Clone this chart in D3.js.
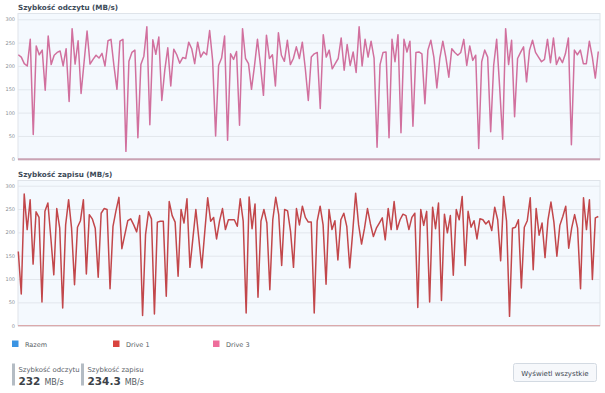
<!DOCTYPE html>
<html><head><meta charset="utf-8">
<script src="https://cdn.jsdelivr.net/npm/d3@7"></script>
<style>
html,body{margin:0;padding:0;background:#fff;}
svg{display:block;font-family:"DejaVu Sans",Verdana,sans-serif;}
</style></head>
<body><svg id="c" width="605" height="393"></svg>
<script>
const readTitle = "Szybkość odczytu (MB/s)";
const writeTitle = "Szybkość zapisu (MB/s)";
const yTicks = [0, 50, 100, 150, 200, 250, 300];
const readValues = [224,219,205,200,257,53,243,224,234,148,264,203,223,229,232,200,237,124,280,204,254,141,208,275,204,214,223,217,227,200,254,257,200,150,253,257,17,210,229,234,46,203,221,284,74,256,225,262,126,
191,239,157,236,224,206,218,216,251,237,205,251,219,230,224,276,212,50,201,217,264,41,226,214,231,73,280,216,205,150,200,257,201,137,266,216,224,157,271,223,210,255,203,216,241,216,251,
194,126,219,226,229,109,267,219,234,194,205,216,260,191,246,201,230,186,284,200,257,219,253,217,26,203,229,230,46,257,209,267,57,257,230,253,71,229,230,226,119,234,255,219,153,217,253,219,176,
237,229,223,229,257,201,243,212,223,23,209,234,219,59,201,257,155,43,280,203,255,91,216,229,241,166,234,255,229,219,209,214,257,207,260,203,219,207,226,260,31,234,224,234,205,205,253,219,174,231];
const writeValues = [159,68,282,206,270,132,244,232,51,245,263,188,109,251,209,38,216,270,209,88,211,225,270,111,238,229,209,104,241,251,249,79,213,246,275,165,195,225,229,216,201,236,22,195,244,229,25,
222,224,224,63,266,236,222,106,249,220,272,125,187,249,187,124,200,274,224,232,186,224,251,206,227,227,227,213,272,224,27,276,208,261,61,224,249,220,77,227,275,238,129,249,246,202,125,251,216,256,
232,222,222,27,224,256,216,89,249,206,225,141,227,241,213,124,200,284,216,175,209,251,218,191,209,220,231,184,251,206,266,206,227,239,236,206,232,241,39,249,215,245,51,254,208,263,54,239,199,
236,108,249,227,277,129,245,211,225,186,229,227,218,225,204,254,227,139,277,224,20,209,211,227,81,211,225,274,120,251,194,220,146,227,265,222,149,215,234,256,166,209,238,209,79,274,206,270,99,231,234];
const legendLabels = ["Razem", "Drive 1", "Drive 3"];
const legendColors = ["#3b94e3", "#d9443f", "#ee6e9b"];
const statLabels = ["Szybkość odczytu", "Szybkość zapisu"];
const statValues = ["232", "234.3"];
const statUnit = "MB/s";
const buttonLabel = "Wyświetl wszystkie";

const svg = d3.select("#c");
const X0 = 18, X1 = 600;

function panel(title, values, top, zeroY, lineColor, baseColor, baseW) {
  const y = d3.scaleLinear().domain([0, 300]).range([zeroY, zeroY - 140]);
  const x = d3.scaleLinear().domain([0, values.length - 1]).range([X0 + 0.3, X1 - 1.7]);
  svg.append("text").attr("x", X0).attr("y", top - 4).attr("font-size", 7.2).attr("font-weight", "bold")
    .attr("fill", "#3d4b58").text(title);
  svg.append("rect").attr("x", X0).attr("y", top).attr("width", X1 - X0).attr("height", zeroY - top)
    .attr("fill", "#f4f9fe").attr("stroke", "#dfe4ea").attr("stroke-width", 1);
  const ax = d3.axisLeft(y).tickValues(yTicks).tickSize(-(X1 - X0)).tickPadding(3);
  const g = svg.append("g").attr("transform", `translate(${X0},0)`).call(ax);
  g.select(".domain").remove();
  g.selectAll(".tick line").attr("stroke", "#e2e7ed").attr("stroke-width", 1);
  g.selectAll(".tick text").attr("font-size", 5).attr("fill", "#8a8f96")
    .attr("font-family", "DejaVu Sans, sans-serif");
  const line = d3.line().x((d, i) => x(i)).y(d => y(d));
  svg.append("path").datum(values).attr("d", line).attr("fill", "none")
    .attr("stroke", lineColor).attr("stroke-width", 1.5).attr("stroke-linejoin", "round");
  svg.append("line").attr("x1", X0).attr("x2", X1).attr("y1", y(0)).attr("y2", y(0))
    .attr("stroke", baseColor).attr("stroke-width", baseW);
}

panel(readTitle, readValues, 13.5, 159.3, "#d1709e", "#caa3b4", 2);
panel(writeTitle, writeValues, 180.5, 325.7, "#c2474b", "#d99a9c", 1);

// legend
const legX = [12, 113, 213];
legendLabels.forEach((l, i) => {
  svg.append("rect").attr("x", legX[i]).attr("y", 340.5).attr("width", 6.5).attr("height", 6.5).attr("fill", legendColors[i]);
  svg.append("text").attr("x", legX[i] + 13).attr("y", 346.5).attr("font-size", 6.5).attr("fill", "#555c63").text(l);
});

// stats
const statX = [12, 81];
statLabels.forEach((l, i) => {
  svg.append("rect").attr("x", statX[i]).attr("y", 363.5).attr("width", 3).attr("height", 22).attr("fill", "#b4bcc4");
  svg.append("text").attr("x", statX[i] + 6.5).attr("y", 372).attr("font-size", 6.9).attr("fill", "#5a6068").text(l);
  const t = svg.append("text").attr("x", statX[i] + 6.5).attr("y", 385).attr("fill", "#3c4248");
  t.append("tspan").attr("font-size", 10.5).attr("font-weight", "bold").text(statValues[i]);
  t.append("tspan").attr("font-size", 8).attr("dx", 4).attr("fill", "#555c63").text(statUnit);
});

// button
svg.append("rect").attr("x", 513.5).attr("y", 363.5).attr("width", 83).attr("height", 18).attr("rx", 2)
  .attr("fill", "#f6f8fb").attr("stroke", "#d3dae2");
svg.append("text").attr("x", 555).attr("y", 375.5).attr("text-anchor", "middle").attr("font-size", 7)
  .attr("fill", "#3d4750").text(buttonLabel);
</script></body></html>
